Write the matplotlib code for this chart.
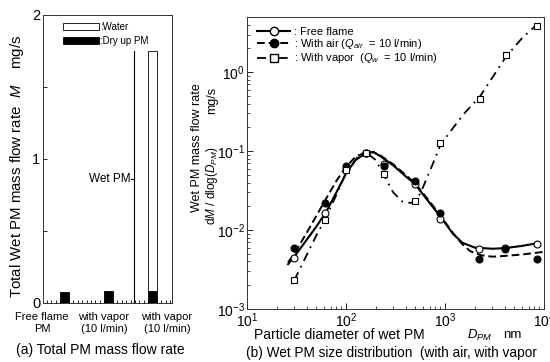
import matplotlib

matplotlib.use("Agg")
import matplotlib.pyplot as plt
from matplotlib.ticker import MultipleLocator, LogLocator, NullFormatter

plt.rcParams["font.family"] = ["Liberation Sans", "DejaVu Sans"]
plt.rcParams["mathtext.fontset"] = "custom"
plt.rcParams["mathtext.rm"] = "Liberation Sans"
plt.rcParams["mathtext.it"] = "Liberation Sans:italic"

# (a) total PM mass flow rate, mg/s
cases = ["Free flame\nPM", "with vapor\n(10 l/min)", "with vapor\n(10 l/min)"]
dry_pm = [0.075, 0.08, 0.08]
water = [0.0, 0.0, 1.67]
wet_pm_total = 1.75

# (b) size distribution, markers
free_d = [30, 61, 100, 160, 241, 500, 891, 2200, 4000, 8500]
free_m = [0.0044, 0.0163, 0.0586, 0.096, 0.068, 0.038, 0.0139, 0.0058, 0.0060, 0.0067]
air_d = [30, 61, 100, 160, 241, 500, 891, 2200, 4000, 8500]
air_m = [0.0060, 0.0222, 0.0646, 0.096, 0.064, 0.042, 0.0166, 0.0043, 0.0057, 0.0043]
vapor_d = [30, 61, 100, 160, 241, 500, 891, 2250, 4100, 8400]
vapor_m = [0.0023, 0.0134, 0.057, 0.096, 0.0516, 0.0231, 0.125, 0.451, 1.67, 3.86]

# fitted curves as drawn in the figure
free_fit_d = [26, 30, 40, 50, 63, 80, 100, 125, 160, 190, 220, 300, 400, 500,
              700, 900, 1200, 1500, 2000, 3000, 4000, 6000, 8500]
free_fit_m = [0.0037, 0.0046, 0.0075, 0.011, 0.0170, 0.030, 0.052, 0.077, 0.095,
              0.097, 0.087, 0.066, 0.048, 0.038, 0.022, 0.0148, 0.0090, 0.0069,
              0.0060, 0.0058, 0.0059, 0.0063, 0.0068]
air_fit_d = [26, 30, 40, 50, 63, 80, 100, 125, 160, 190, 220, 300, 400, 500,
             700, 900, 1200, 1500, 1800, 2300, 3000, 4000, 6000, 10000]
air_fit_m = [0.0039, 0.0050, 0.0092, 0.015, 0.025, 0.042, 0.063, 0.085, 0.097,
             0.097, 0.089, 0.068, 0.050, 0.039, 0.023, 0.0152, 0.0092, 0.0066,
             0.0054, 0.0048, 0.0046, 0.0047, 0.0049, 0.0053]
vapor_fit_d = [30, 40, 50, 63, 80, 100, 130, 160, 200, 240, 300, 370, 450, 520,
               600, 750, 900, 1200, 1600, 2250, 3000, 4100, 6000, 9000]
vapor_fit_m = [0.0023, 0.0048, 0.0085, 0.0145, 0.028, 0.053, 0.083, 0.096, 0.077,
               0.050, 0.030, 0.023, 0.022, 0.024, 0.035, 0.068, 0.12, 0.195, 0.31,
               0.49, 0.85, 1.55, 2.7, 4.3]

W, H = 550, 362
fig = plt.figure(figsize=(W / 100, H / 100), dpi=100)


def px(x, y):
    return x / W, 1 - y / H


# ---------- (a) ----------
ax1 = fig.add_axes([43 / W, 1 - 303 / H, 129 / W, 288 / H])
x = range(len(cases))
ax1.bar(x, dry_pm, width=0.2, color="black", edgecolor="black", lw=0.6,
        label=":Dry up PM")
wx = [i for i in x if water[i] > 0]
ax1.bar(wx, [water[i] for i in wx], bottom=[dry_pm[i] for i in wx], width=0.2,
        color="white", edgecolor="black", lw=0.6, label=":Water")
ax1.plot([1.58, 1.58], [0, wet_pm_total], color="black", lw=0.8)
ax1.plot([1.51, 1.58], [0.86, 0.86], color="black", lw=0.8)
ax1.text(1.49, 0.86, "Wet PM", ha="right", va="center", fontsize=8.5)
ax1.set_xlim(-0.49, 2.44)
ax1.set_ylim(0, 2)
ax1.set_yticks([0, 1, 2])
ax1.set_yticklabels(["0", "1", "2"], fontsize=10.5)
ax1.yaxis.set_minor_locator(MultipleLocator(0.5))
ax1.set_xticks(list(x))
ax1.set_xticklabels([])
ax1.xaxis.set_minor_locator(MultipleLocator(0.1))
ax1.tick_params(axis="x", which="major", length=0)
ax1.tick_params(axis="x", which="minor", direction="in", length=2, width=0.6)
ax1.tick_params(axis="y", which="both", direction="in", length=3, width=0.6, pad=2)
for s in ax1.spines.values():
    s.set_linewidth(0.7)
    s.set_color("#333333")
h, l = ax1.get_legend_handles_labels()
ax1.legend(h[::-1], l[::-1], loc="upper left", bbox_to_anchor=(0.1, 1.0),
           frameon=False, fontsize=7, handlelength=3.7, handleheight=0.7,
           handletextpad=0.1, labelspacing=0.4, borderaxespad=0.3)

# category labels, spread out under the bars as in the original
for cx, name in zip([42, 104, 167], cases):
    fig.text(*px(cx, 323), name, ha="center", va="center", fontsize=8,
             linespacing=1.25)

fig.text(*px(17, 298), "Total Wet PM mass flow rate  $M$    mg/s",
         rotation=90, ha="center", va="bottom", fontsize=10.8)
fig.text(*px(100, 350), "(a) Total PM mass flow rate",
         ha="center", va="center", fontsize=10)

# ---------- (b) ----------
ax2 = fig.add_axes([247 / W, 1 - 309 / H, 297 / W, 292 / H])
ax2.plot(free_fit_d, free_fit_m, color="black", lw=1.5)
ax2.plot(air_fit_d, air_fit_m, color="black", lw=1.4, dashes=(4, 2))
ax2.plot(vapor_fit_d, vapor_fit_m, color="black", lw=1.3, dashes=(5, 3, 1, 3))
mk = dict(ls="none", ms=5, mec="black", mew=0.8)
ax2.plot(free_d, free_m, marker="o", mfc="white", **mk)
ax2.plot(air_d, air_m, marker="o", mfc="black", **mk)
ax2.plot(vapor_d, vapor_m, marker="s", mfc="white", **mk)

# legend handles
ax2.plot([], [], color="black", lw=1.5, marker="o", mfc="white", mec="black",
         ms=6, label=": Free flame")
ax2.plot([], [], color="black", lw=1.4, dashes=(4, 2), marker="o", mfc="black",
         mec="black", ms=6, label=": With air ($Q_{air}$  = 10 l/min)")
ax2.plot([], [], color="black", lw=1.3, dashes=(5, 3, 1, 3), marker="s",
         mfc="white", mec="black", ms=6,
         label=": With vapor  ($Q_w$  = 10 l/min)")
h, l = ax2.get_legend_handles_labels()
ax2.legend(h[-3:], l[-3:], loc="upper left", bbox_to_anchor=(0.0, 1.0),
           frameon=False, fontsize=8, handlelength=3.0, handletextpad=0.3,
           labelspacing=0.02, borderaxespad=0.5)

ax2.set_xscale("log")
ax2.set_yscale("log")
ax2.set_xlim(10, 1e4)
ax2.set_ylim(1e-3, 5)
ax2.xaxis.set_minor_locator(LogLocator(base=10, subs=range(2, 10)))
ax2.yaxis.set_minor_locator(LogLocator(base=10, subs=range(2, 10)))
ax2.xaxis.set_minor_formatter(NullFormatter())
ax2.yaxis.set_minor_formatter(NullFormatter())
ax2.tick_params(which="major", direction="in", length=4, width=0.6,
                labelsize=10, pad=1.5, right=False, top=False)
ax2.tick_params(which="minor", direction="in", length=2, width=0.5,
                right=False, top=False)
for s in ax2.spines.values():
    s.set_linewidth(0.7)
    s.set_color("#333333")

fig.text(*px(197, 148), "Wet PM mass flow rate",
         rotation=90, ha="center", va="center", fontsize=9)
fig.text(*px(212, 100), "mg/s", rotation=90, ha="center", va="center", fontsize=9)
fig.text(*px(212, 186), "d$M$ / dlog($D_{PM}$)",
         rotation=90, ha="center", va="center", fontsize=8.5)
fig.text(*px(254, 335), "Particle diameter of wet PM",
         ha="left", va="center", fontsize=10)
fig.text(*px(480, 335), "$D_{PM}$", ha="center", va="center", fontsize=9.5)
fig.text(*px(512, 335), "nm", ha="center", va="center", fontsize=9.5)
fig.text(*px(246, 353), "(b) Wet PM size distribution  (with air, with vapor",
         ha="left", va="center", fontsize=9.8)

fig.savefig("out.png", dpi=100)
